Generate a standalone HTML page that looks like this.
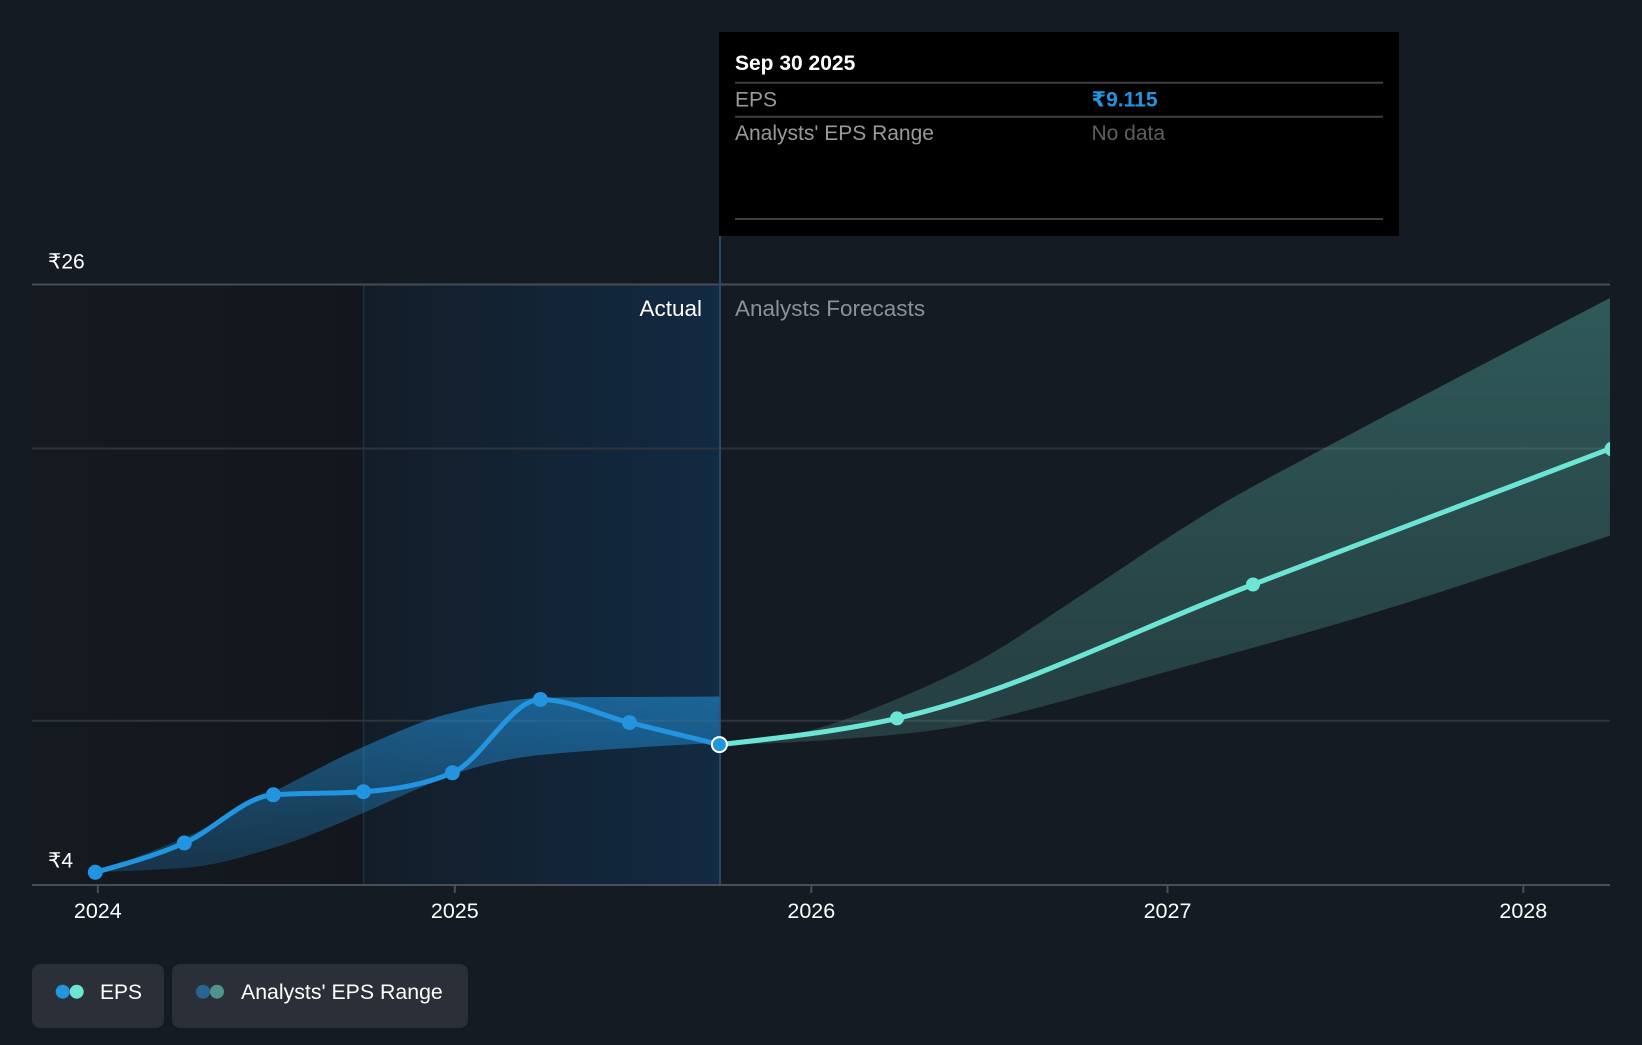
<!DOCTYPE html>
<html>
<head>
<meta charset="utf-8">
<style>
html,body{margin:0;padding:0;background:#151b23;}
body{width:1642px;height:1040px;overflow:hidden;font-family:"Liberation Sans","DejaVu Sans",sans-serif;}
svg text{font-family:"Liberation Sans","DejaVu Sans",sans-serif;}
</style>
</head>
<body>
<svg width="1642" height="1040" viewBox="0 0 1642 1040" xmlns="http://www.w3.org/2000/svg">
  <defs>
    <linearGradient id="pastBg" x1="0" y1="0" x2="1" y2="0">
      <stop offset="0" stop-color="#131d28"/>
      <stop offset="1" stop-color="#122a42"/>
    </linearGradient>
    <linearGradient id="leftBg" x1="0" y1="0" x2="1" y2="0">
      <stop offset="0" stop-color="#151a21"/>
      <stop offset="1" stop-color="#13171d"/>
    </linearGradient>
    <linearGradient id="blueBand" x1="0" y1="697" x2="0" y2="873" gradientUnits="userSpaceOnUse">
      <stop offset="0" stop-color="#2394df" stop-opacity="0.55"/>
      <stop offset="1" stop-color="#2394df" stop-opacity="0.22"/>
    </linearGradient>
    <linearGradient id="tealBand" x1="0" y1="298" x2="0" y2="745" gradientUnits="userSpaceOnUse">
      <stop offset="0" stop-color="#4fa59b" stop-opacity="0.45"/>
      <stop offset="1" stop-color="#4f968e" stop-opacity="0.28"/>
    </linearGradient>
    <clipPath id="plot"><rect x="32" y="230" width="1578" height="656"/></clipPath>
  </defs>

  <!-- background regions -->
  <rect x="0" y="0" width="1642" height="1040" fill="#151b23"/>
  <rect x="32" y="285" width="331.6" height="600" fill="url(#leftBg)"/>
  <rect x="363.6" y="285" width="356.4" height="600" fill="url(#pastBg)"/>
  <line x1="363.6" y1="285" x2="363.6" y2="885" stroke="#1b3246" stroke-width="1.5"/>

  <!-- grid -->
  <line x1="32" y1="284.5" x2="1610" y2="284.5" stroke="#464c55" stroke-width="2"/>
  <line x1="32" y1="448.5" x2="1610" y2="448.5" stroke="#2e343d" stroke-width="2"/>
  <line x1="32" y1="720.8" x2="1610" y2="720.8" stroke="#2e343d" stroke-width="2"/>

  <!-- divider line -->
  <line x1="720" y1="236" x2="720" y2="885" stroke="#274a68" stroke-width="2"/>

  <g clip-path="url(#plot)">
    <!-- past range band -->
    <path d="M95.3,872.3 C125,862 155,850 184,838 C214,825 243,806 273,792 C303,777 333,760 363,747 C393,734 422,720 452,713 C482,705 510,699 540,698 C570,697 600,697 630,697 L719.4,696.5 L719.4,743 C690,744 660,746 630,748 C600,750 570,752 540,755 C510,758 480,765 452,775 C422,786 393,800 363,813 C333,826 303,839 273,848 C243,857 214,866 184,868 C155,870 125,871 95.3,872.3 Z" fill="url(#blueBand)"/>

    <!-- forecast range band -->
    <path d="M719.4,744.6 C732.8,742.7 773.2,739.4 800,733 C826.8,726.6 850,718.2 880,706 C910,693.8 946.7,678.3 980,660 C1013.3,641.7 1046.7,617.7 1080,596 C1113.3,574.3 1151.3,548.2 1180,530 C1208.7,511.8 1228,500 1252,487 C1372,422.2 1492,359.4 1612,297 L1612,535 C1534.7,560.5 1457.3,587.2 1380,611 C1313.3,631.5 1246.7,649.5 1180,668 C1113.3,686.5 1046.7,706.9 980,722 C946.7,729.6 913.3,733.1 880,736 C826.5,740.6 773,744.1 719.4,744.6 Z" fill="url(#tealBand)"/>

    <!-- EPS actual line -->
    <path d="M95.3,872.3 C125,864.1 154.6,855.9 184.3,843 C214,830.1 243.6,796.8 273.3,794.8 C303.3,792.8 333.4,793.7 363.4,791.7 C393.1,789.7 422.7,785.4 452.4,772.8 C481.7,760.4 511.1,699.5 540.4,699.5 C570.1,699.5 599.7,715.1 629.4,722.6 C659.4,730.2 689.4,737.4 719.4,744.6" fill="none" stroke="#2394df" stroke-width="5" stroke-linecap="round"/>

    <!-- EPS forecast line -->
    <path d="M719.4,744.6 C778.6,738.1 837.8,731.6 897,718.4 C1015.7,691.9 1134.3,629.5 1253,584.5 C1371.3,539.7 1489.7,494.3 1612,448" fill="none" stroke="#6ce5d4" stroke-width="5" stroke-linecap="round"/>

    <!-- markers -->
    <g fill="#2394df">
      <circle cx="95.3" cy="872.3" r="7.5"/>
      <circle cx="184.3" cy="843" r="7.5"/>
      <circle cx="273.3" cy="794.8" r="7.5"/>
      <circle cx="363.4" cy="791.7" r="7.5"/>
      <circle cx="452.4" cy="772.8" r="7.5"/>
      <circle cx="540.4" cy="699.5" r="7.5"/>
      <circle cx="629.4" cy="722.6" r="7.5"/>
    </g>
    <g fill="#6ce5d4">
      <circle cx="897" cy="718.4" r="7"/>
      <circle cx="1253" cy="584.5" r="7"/>
      <circle cx="1612" cy="449" r="7.5"/>
    </g>
    <circle cx="719.4" cy="744.6" r="7.5" fill="#2394df" stroke="#ffffff" stroke-width="2"/>
  </g>

  <!-- x axis -->
  <line x1="32" y1="885" x2="1610" y2="885" stroke="#4a4f57" stroke-width="2"/>
  <g stroke="#4a4f57" stroke-width="2">
    <line x1="97.8" y1="885" x2="97.8" y2="893"/>
    <line x1="454.8" y1="885" x2="454.8" y2="893"/>
    <line x1="811.3" y1="885" x2="811.3" y2="893"/>
    <line x1="1167.5" y1="885" x2="1167.5" y2="893"/>
    <line x1="1523.3" y1="885" x2="1523.3" y2="893"/>
  </g>
  <g fill="#ffffff" font-size="21.5" text-anchor="middle">
    <text x="97.8" y="918">2024</text>
    <text x="454.8" y="918">2025</text>
    <text x="811.3" y="918">2026</text>
    <text x="1167.5" y="918">2027</text>
    <text x="1523.3" y="918">2028</text>
  </g>

  <!-- y labels -->
  <text x="48" y="268.5" fill="#ffffff" font-size="21">₹26</text>
  <text x="48" y="867.5" fill="#ffffff" font-size="21">₹4</text>

  <!-- section labels -->
  <text x="702" y="316" fill="#ffffff" font-size="22.5" text-anchor="end">Actual</text>
  <text x="735" y="316" fill="#8c9097" font-size="22.5">Analysts Forecasts</text>

  <!-- tooltip -->
  <rect x="719" y="32" width="680" height="204" fill="#000000"/>
  <text x="735" y="70" fill="#ffffff" font-size="21" font-weight="bold">Sep 30 2025</text>
  <line x1="735" y1="82.7" x2="1383" y2="82.7" stroke="#3f3f3f" stroke-width="2"/>
  <text x="735" y="106.5" fill="#9a9a9a" font-size="21">EPS</text>
  <text x="1091.5" y="106.5" fill="#2394df" font-size="21" font-weight="bold">₹9.115</text>
  <line x1="735" y1="116.7" x2="1383" y2="116.7" stroke="#3f3f3f" stroke-width="2"/>
  <text x="735" y="140" fill="#9a9a9a" font-size="21">Analysts' EPS Range</text>
  <text x="1091.5" y="140" fill="#5f5f5f" font-size="21">No data</text>
  <line x1="735" y1="219" x2="1383" y2="219" stroke="#3f3f3f" stroke-width="2"/>

  <!-- legend -->
  <rect x="32" y="964" width="132" height="64" rx="8" fill="#2b2f37"/>
  <circle cx="62.7" cy="991.7" r="7" fill="#2394df"/>
  <circle cx="76.7" cy="991.7" r="7" fill="#6ce5d4"/>
  <text x="100" y="999" fill="#ffffff" font-size="21">EPS</text>

  <rect x="172" y="964" width="296" height="64" rx="8" fill="#2b2f37"/>
  <circle cx="203" cy="991.7" r="7" fill="#286593"/>
  <circle cx="217" cy="991.7" r="7" fill="#4f938b"/>
  <text x="241" y="999" fill="#ffffff" font-size="21.3">Analysts' EPS Range</text>
</svg>
</body>
</html>
